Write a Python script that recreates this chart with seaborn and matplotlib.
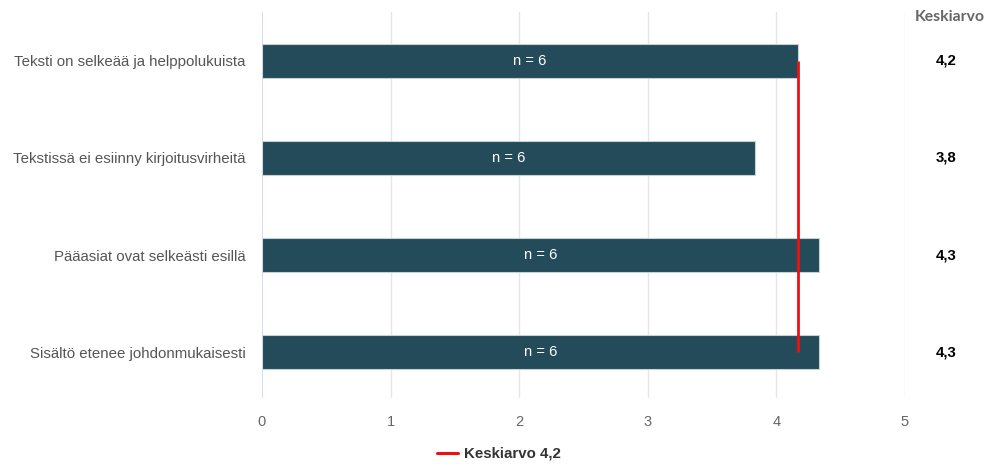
import matplotlib
matplotlib.use("Agg")
import matplotlib.pyplot as plt
import seaborn as sns
import pandas as pd

categories = [
    "Teksti on selkeää ja helppolukuista",
    "Tekstissä ei esiinny kirjoitusvirheitä",
    "Pääasiat ovat selkeästi esillä",
    "Sisältö etenee johdonmukaisesti",
]
values = [4.17, 3.83, 4.33, 4.33]
counts = [6, 6, 6, 6]
overall_mean = 4.17
x_ticks = [0, 1, 2, 3, 4, 5]

sns.set_theme(style="white")
plt.rcParams["font.family"] = ["Liberation Sans", "DejaVu Sans"]

df = pd.DataFrame({"cat": categories, "val": values})

fig = plt.figure(figsize=(9.91, 4.66), dpi=100)
ax = fig.add_axes([262 / 991, 1 - 398 / 466, (905 - 262) / 991, (398 - 12) / 466])

sns.barplot(data=df, x="val", y="cat", orient="h", color="#234b5a", saturation=1,
            width=0.36, edgecolor="#c8d0d4", linewidth=0.8, ax=ax, zorder=2)

ax.set_xlim(0, 5)
ax.set_ylim(3.474, -0.505)
ax.set_xticks(x_ticks)
ax.set_xticklabels([str(t) for t in x_ticks], color="#666666", fontsize=10.5)
ax.tick_params(axis="x", length=0, pad=12)
ax.tick_params(axis="y", length=0, pad=12)
for lab in ax.get_yticklabels():
    lab.set_color("#555555")
    lab.set_fontsize(10.8)
ax.set_xlabel("")
ax.set_ylabel("")
for s in ax.spines.values():
    s.set_visible(False)

for t in x_ticks[1:]:
    ax.axvline(t, color="#e6e6e6", lw=1, zorder=0)
ax.axvline(0, color="#ccd6eb", lw=1.2, zorder=3)

for i, (v, n) in enumerate(zip(values, counts)):
    ax.text(v / 2, i, f"n = {n}", color="white", ha="center", va="center",
            fontsize=10.6, zorder=5)

mean_line = ax.vlines(overall_mean, 0, len(categories) - 1, color="#ee1111", lw=2,
                      zorder=4, label=f"Keskiarvo {overall_mean:.1f}".replace(".", ","))

fig.text(950 / 991, 1 - 17 / 466, "Keskiarvo", ha="center", va="center",
         fontsize=11.3, fontweight="bold", color="#666666", family=["Lato", "DejaVu Sans"])
for i, v in enumerate(values):
    y_disp = ax.transData.transform((0, i))[1]
    y_fig = fig.transFigure.inverted().transform((0, y_disp))[1]
    fig.text(946 / 991, y_fig, f"{v:.1f}".replace(".", ","), ha="center", va="center",
             fontsize=10.8, fontweight="bold", color="#000000")

handles = [plt.Line2D([0], [0], color="#ee1111", lw=2.2)]
leg = fig.legend(handles, [f"Keskiarvo {overall_mean:.1f}".replace(".", ",")],
                 loc="center", bbox_to_anchor=(499 / 991, 1 - 454 / 466),
                 frameon=False, handlelength=1.4, handletextpad=0.45,
                 prop={"weight": "bold", "size": 10.8})
for t in leg.get_texts():
    t.set_color("#333333")

fig.savefig("out.png", dpi=100)
